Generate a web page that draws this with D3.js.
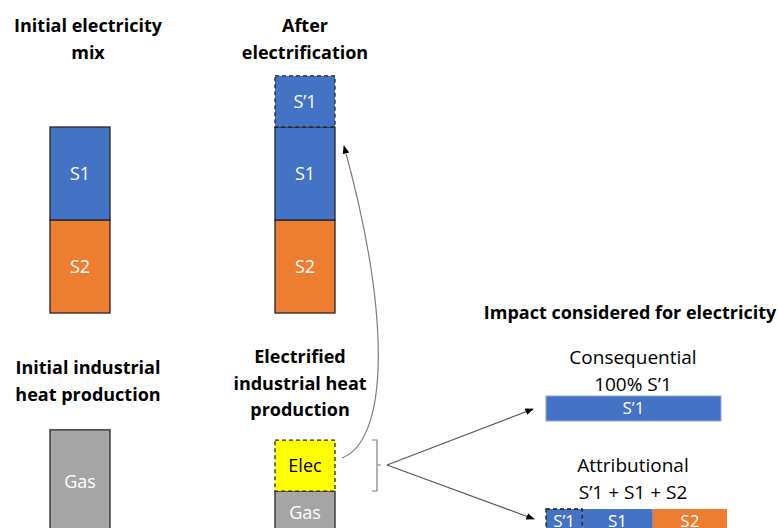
<!DOCTYPE html>
<html>
<head>
<meta charset="utf-8">
<script src="https://cdn.jsdelivr.net/npm/d3@7"></script>
<style>
  body { margin: 0; background: #fff; }
  svg { display: block; font-family: "Open Sans", Lato, sans-serif; }
</style>
</head>
<body>
<svg id="chart" width="778" height="528"></svg>
<script>
// stacks listed bottom to top, values in "shares" of the initial S1 block
const mixKeys = ["S2", "S1"];
const mixValues = [1, 1];
const addedKey = "S’1";
const addedValue = 0.55;

const heatInitialKeys = ["Gas"];
const heatInitialValues = [1.12];
const heatElecKeys = ["Gas", "Elec"];
const heatElecValues = [0.46, 0.55];

// horizontal bars, left to right
const consKeys = ["S’1"];
const consValues = [1];
const attrKeys = ["S’1", "S1", "S2"];
const attrValues = [0.2, 0.39, 0.41];

const colors = { "S1": "#4472C4", "S2": "#ED7D31", "S’1": "#4472C4", "Gas": "#A5A5A5", "Elec": "#FFFF00" };

const svg = d3.select("#chart");
const y = d3.scaleLinear().domain([0, 1]).range([0, 93]);

svg.append("defs").append("marker")
  .attr("id", "arrow")
  .attr("viewBox", "0 0 10 10")
  .attr("refX", 9).attr("refY", 5)
  .attr("markerWidth", 7).attr("markerHeight", 7)
  .attr("orient", "auto-start-reverse")
  .append("path").attr("d", "M0,1 L10,5 L0,9 z").attr("fill", "#000");

function stack(keys, values) {
  let acc = 0;
  return keys.map((k, i) => { const s = { key: k, y0: acc, y1: acc + values[i] }; acc += values[i]; return s; });
}

// vertical stacked bar, base is the bottom pixel
function vbar(x, base, segs, dashedKeys) {
  const g = svg.append("g");
  segs.forEach(s => {
    const dashed = dashedKeys.includes(s.key);
    g.append("rect")
      .attr("x", x).attr("width", 60)
      .attr("y", base - y(s.y1)).attr("height", y(s.y1) - y(s.y0))
      .attr("fill", colors[s.key])
      .attr("stroke", "#262626").attr("stroke-width", 1.3)
      .attr("stroke-dasharray", dashed ? "4,3" : null);
    g.append("text")
      .attr("x", x + 30).attr("y", base - y((s.y0 + s.y1) / 2))
      .attr("dy", "0.35em").attr("text-anchor", "middle")
      .attr("font-size", 18)
      .attr("fill", s.key === "Elec" ? "#000" : "#fff")
      .text(s.key);
  });
}

vbar(50, 313, stack(mixKeys, mixValues), []);
vbar(275, 313, stack(mixKeys.concat([addedKey]), mixValues.concat([addedValue])), [addedKey]);
vbar(50, 534, stack(heatInitialKeys, heatInitialValues), []);
vbar(275, 534, stack(heatElecKeys, heatElecValues), ["Elec"]);

// horizontal bars
function hbar(x0, x1, top, keys, values, dashedKeys, outline) {
  const total = d3.sum(values);
  const x = d3.scaleLinear().domain([0, total]).range([x0, x1]);
  const segs = stack(keys, values);
  const g = svg.append("g");
  segs.forEach(s => {
    g.append("rect")
      .attr("x", x(s.y0)).attr("width", x(s.y1) - x(s.y0))
      .attr("y", top).attr("height", 25)
      .attr("fill", colors[s.key])
      .attr("stroke", outline || "none").attr("stroke-width", 1);
  });
  segs.filter(s => dashedKeys.includes(s.key)).forEach(s => {
    g.append("rect")
      .attr("x", x(s.y0)).attr("width", x(s.y1) - x(s.y0))
      .attr("y", top).attr("height", 25)
      .attr("fill", "none").attr("stroke", "#1a1a1a")
      .attr("stroke-width", 1.3).attr("stroke-dasharray", "4,3");
  });
  segs.forEach(s => {
    g.append("text")
      .attr("x", (x(s.y0) + x(s.y1)) / 2).attr("y", top + 12.5)
      .attr("dy", "0.35em").attr("text-anchor", "middle")
      .attr("font-size", 17).attr("fill", "#fff")
      .text(s.key);
  });
}

hbar(546, 721, 396, consKeys, consValues, [], "#8FAADC");
hbar(546, 727, 509, attrKeys, attrValues, ["S’1"]);

// titles
function title(cx, lines, top, bold, size) {
  const t = svg.append("text")
    .attr("text-anchor", "middle")
    .attr("font-size", size || 18)
    .attr("font-weight", bold ? "bold" : "normal")
    .attr("fill", "#000");
  lines.forEach((l, i) => t.append("tspan").attr("x", cx).attr("y", top + i * 26.5).text(l));
}

title(88, ["Initial electricity", "mix"], 32, true);
title(305, ["After", "electrification"], 32, true);
title(88, ["Initial industrial", "heat production"], 374, true);
title(300, ["Electrified", "industrial heat", "production"], 363, true);
title(630, ["Impact considered for electricity"], 319, true);
title(633, ["Consequential", "100% S’1"], 364, false, 19);
title(633, ["Attributional", "S’1 + S1 + S2"], 472, false, 19);

// curved arrow from Elec to after-electrification bar
svg.append("path")
  .attr("d", "M342,458 C388,440 392,320 344,146")
  .attr("fill", "none").attr("stroke", "#7f7f7f").attr("stroke-width", 1.2)
  .attr("marker-end", "url(#arrow)");

// bracket
svg.append("path")
  .attr("d", "M372,440 L377,440 L377,491 L372,491 M377,465 L381,465")
  .attr("fill", "none").attr("stroke", "#7f7f7f").attr("stroke-width", 1.2);

// arrows from the bracket
[[533, 409], [534, 519]].forEach(p => {
  svg.append("line")
    .attr("x1", 387).attr("y1", 465).attr("x2", p[0]).attr("y2", p[1])
    .attr("stroke", "#595959").attr("stroke-width", 1.2)
    .attr("marker-end", "url(#arrow)");
});
</script>
</body>
</html>
